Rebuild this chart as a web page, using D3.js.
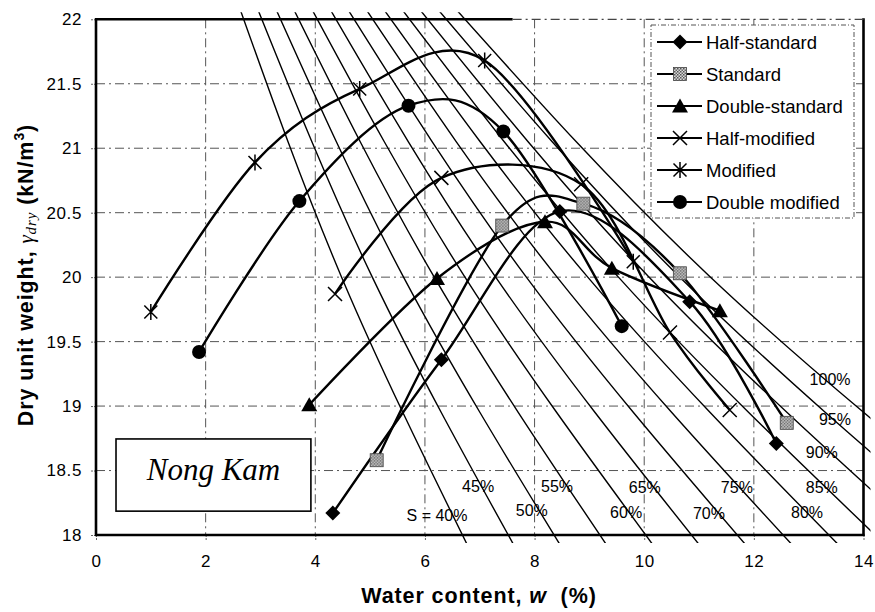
<!DOCTYPE html>
<html>
<head>
<meta charset="utf-8">
<script src="https://cdn.jsdelivr.net/npm/d3@7"></script>
<style>
  body { margin: 0; background: #fff; }
  svg { display: block; font-family: "Liberation Sans", Arial, sans-serif; }
</style>
</head>
<body>
<svg id="chart" width="875" height="612"></svg>
<script>
// ---- Compaction curves: water content w (%) and dry unit weight (kN/m3) ----
const halfStandardW    = [4.32, 6.30, 8.46, 10.83, 12.41];
const halfStandardG    = [18.17, 19.36, 20.51, 19.81, 18.71];
const standardW        = [5.12, 7.41, 8.89, 10.65, 12.60];
const standardG        = [18.58, 20.40, 20.57, 20.03, 18.87];
const doubleStandardW  = [3.89, 6.22, 8.19, 9.41, 11.38];
const doubleStandardG  = [19.01, 19.99, 20.43, 20.07, 19.74];
const halfModifiedW    = [4.36, 6.30, 8.85, 10.47, 11.56];
const halfModifiedG    = [19.87, 20.77, 20.72, 19.57, 18.97];
const modifiedW        = [1.00, 2.90, 4.81, 7.09, 9.80];
const modifiedG        = [19.73, 20.89, 21.46, 21.68, 20.12];
const doubleModifiedW  = [1.88, 3.71, 5.70, 7.43, 9.59];
const doubleModifiedG  = [19.42, 20.59, 21.33, 21.13, 19.62];

const seriesNames   = ["Half-standard", "Standard", "Double-standard", "Half-modified", "Modified", "Double modified"];
const seriesMarkers = ["diamond", "square", "triangle", "cross", "asterisk", "circle"];

// ---- Degree-of-saturation lines: water content read at three unit weights ----
const satDegrees = [40, 45, 50, 55, 60, 65, 70, 75, 80, 85, 90, 95, 100];
const satGamma   = [22.1, 20, 17.9];
const satW = [
  [2.61, 4.48, 6.80],
  [2.93, 5.04, 7.65],
  [3.26, 5.61, 8.50],
  [3.58, 6.17, 9.35],
  [3.91, 6.73, 10.20],
  [4.24, 7.29, 11.05],
  [4.56, 7.85, 11.90],
  [4.89, 8.41, 12.75],
  [5.21, 8.97, 13.60],
  [5.54, 9.53, 14.46],
  [5.86, 10.09, 15.31],
  [6.19, 10.65, 16.16],
  [6.52, 11.21, 17.01]
];
const satLabels  = ["S = 40%", "45%", "50%", "55%", "60%", "65%", "70%", "75%", "80%", "85%", "90%", "95%", "100%"];
const satLabelW  = [6.22, 6.97, 7.95, 8.41, 9.67, 10.01, 11.18, 11.69, 12.97, 13.24, 13.24, 13.48, 13.39];
const satLabelG  = [18.15, 18.38, 18.19, 18.38, 18.18, 18.37, 18.17, 18.37, 18.18, 18.37, 18.64, 18.90, 19.21];

// ---- Axis ticks ----
const xTicks = [0, 2, 4, 6, 8, 10, 12, 14];
const yTicks = [18, 18.5, 19, 19.5, 20, 20.5, 21, 21.5, 22];

const svg = d3.select("#chart");
const x = d3.scaleLinear().domain([0, 14]).range([96, 863.5]);
const y = d3.scaleLinear().domain([18, 22]).range([535, 19.3]);

const defs = svg.append("defs");
const pat = defs.append("pattern").attr("id", "speckle")
  .attr("width", 3).attr("height", 3).attr("patternUnits", "userSpaceOnUse");
pat.append("rect").attr("width", 3).attr("height", 3).attr("fill", "#d8d8d8");
pat.append("rect").attr("width", 1.5).attr("height", 1.5).attr("fill", "#555");
pat.append("rect").attr("x", 1.5).attr("y", 1.5).attr("width", 1.5).attr("height", 1.5).attr("fill", "#666");

defs.append("clipPath").attr("id", "satClip").append("rect")
  .attr("x", x(0)).attr("y", y(22) - 7).attr("width", x(14) - x(0) + 7).attr("height", y(18) - y(22) + 15);

// ---- Grid (dash-dot) ----
const grid = svg.append("g").attr("stroke", "#555").attr("stroke-width", 1).attr("stroke-dasharray", "9,4,2,4");
grid.selectAll("line.v").data(xTicks.filter(d => d > 0 && d < 14)).join("line")
  .attr("x1", d => x(d)).attr("x2", d => x(d)).attr("y1", y(22)).attr("y2", y(18));
grid.selectAll("line.h").data(yTicks.filter(d => d > 18 && d < 22)).join("line")
  .attr("x1", x(0)).attr("x2", x(14)).attr("y1", d => y(d)).attr("y2", d => y(d));

// ---- Axes ----
const yAxis = svg.append("g").attr("transform", `translate(${x(0)},0)`)
  .call(d3.axisLeft(y).tickValues(yTicks).tickSize(5).tickPadding(9).tickFormat(d3.format("")));
const xAxis = svg.append("g").attr("transform", `translate(0,${y(18)})`)
  .call(d3.axisBottom(x).tickValues(xTicks).tickSize(5).tickPadding(15).tickFormat(d3.format("")));
[yAxis, xAxis].forEach(a => {
  a.select(".domain").remove();
  a.selectAll(".tick line").attr("stroke", "#666").attr("stroke-dasharray", "2,1");
  a.selectAll(".tick text").attr("font-size", 17).attr("letter-spacing", "0.6px")
    .attr("font-family", "Liberation Sans, Arial, sans-serif").attr("fill", "#000");
});

// ---- Saturation lines ----
const satLine = d3.line().x(d => x(d[0])).y(d => y(d[1])).curve(d3.curveNatural);
svg.append("g").attr("clip-path", "url(#satClip)")
  .selectAll("path").data(satW).join("path")
  .attr("d", ws => satLine(ws.map((w, i) => [w, satGamma[i]])))
  .attr("fill", "none").attr("stroke", "#000").attr("stroke-width", 1.4);

svg.append("g").selectAll("text").data(satLabels).join("text")
  .attr("x", (d, i) => x(satLabelW[i])).attr("y", (d, i) => y(satLabelG[i]))
  .attr("dy", "0.36em").attr("text-anchor", "middle").attr("font-size", 16)
  .text(d => d);

// ---- Frame ----
const frame = svg.append("g").attr("stroke", "#000").attr("stroke-width", 2.6).attr("fill", "none");
frame.append("line").attr("x1", x(0)).attr("x2", x(0)).attr("y1", y(22) - 1).attr("y2", y(18) + 1);
frame.append("line").attr("x1", x(0) - 1).attr("x2", x(14) + 1).attr("y1", y(18)).attr("y2", y(18));
frame.append("line").attr("x1", x(14)).attr("x2", x(14)).attr("y1", y(22) - 1).attr("y2", y(18) + 1);
frame.append("line").attr("x1", x(0) - 1).attr("x2", x(7.6)).attr("y1", y(22)).attr("y2", y(22));
frame.append("line").attr("x1", x(7.6)).attr("x2", x(14)).attr("y1", y(22)).attr("y2", y(22))
  .attr("stroke-width", 1.2).attr("stroke", "#444").attr("stroke-dasharray", "9,4,2,4");

// ---- Markers ----
function drawMarker(g, type, cx, cy) {
  const s = g.append("g").attr("transform", `translate(${cx},${cy})`);
  if (type === "diamond") {
    s.append("path").attr("d", "M0,-7.5L7.5,0L0,7.5L-7.5,0Z").attr("fill", "#000");
  } else if (type === "square") {
    s.append("rect").attr("x", -6.5).attr("y", -6.5).attr("width", 13).attr("height", 13)
      .attr("fill", "url(#speckle)").attr("stroke", "#444").attr("stroke-width", 0.8);
  } else if (type === "triangle") {
    s.append("path").attr("d", "M0,-7.5L8,6.5L-8,6.5Z").attr("fill", "#000");
  } else if (type === "cross") {
    s.append("path").attr("d", "M-7,-7L7,7M-7,7L7,-7").attr("stroke", "#000").attr("stroke-width", 1.5);
  } else if (type === "asterisk") {
    s.append("path").attr("d", "M-6.5,-6.5L6.5,6.5M-6.5,6.5L6.5,-6.5M0,-8L0,8")
      .attr("stroke", "#000").attr("stroke-width", 1.5);
  } else if (type === "circle") {
    s.append("circle").attr("r", 7).attr("fill", "#000");
  }
}

// ---- Compaction curves ----
const seriesW = [halfStandardW, standardW, doubleStandardW, halfModifiedW, modifiedW, doubleModifiedW];
const seriesG = [halfStandardG, standardG, doubleStandardG, halfModifiedG, modifiedG, doubleModifiedG];
const curve = d3.line().x(d => x(d[0])).y(d => y(d[1])).curve(d3.curveCatmullRom.alpha(0));
const curves = svg.append("g");
seriesW.forEach((ws, k) => {
  const pts = ws.map((w, i) => [w, seriesG[k][i]]);
  curves.append("path").attr("d", curve(pts)).attr("fill", "none")
    .attr("stroke", "#000").attr("stroke-width", 2.4);
});
seriesW.forEach((ws, k) => {
  ws.forEach((w, i) => drawMarker(curves, seriesMarkers[k], x(w), y(seriesG[k][i])));
});

// ---- Legend ----
const lg = svg.append("g").attr("transform", "translate(651,25)");
lg.append("rect").attr("width", 203).attr("height", 193).attr("fill", "#fff")
  .attr("stroke", "#555").attr("stroke-width", 1).attr("stroke-dasharray", "5,2,1,2");
seriesNames.forEach((name, i) => {
  const cy = 17 + i * 32;
  lg.append("line").attr("x1", 6).attr("x2", 51).attr("y1", cy).attr("y2", cy)
    .attr("stroke", "#000").attr("stroke-width", 2);
  drawMarker(lg, seriesMarkers[i], 29, cy);
  lg.append("text").attr("x", 55).attr("y", cy).attr("dy", "0.36em")
    .attr("font-size", 18.5).text(name);
});

// ---- Site label box ----
const nk = svg.append("g");
nk.append("rect").attr("x", x(0.365)).attr("y", y(18.745))
  .attr("width", x(3.92) - x(0.365)).attr("height", y(18.185) - y(18.745))
  .attr("fill", "#fff").attr("stroke", "#000").attr("stroke-width", 1.6);
nk.append("text").attr("x", (x(0.365) + x(3.92)) / 2).attr("y", 480)
  .attr("text-anchor", "middle").attr("font-size", 31)
  .style("font-family", "'Liberation Serif', 'Times New Roman', serif").style("font-style", "italic")
  .text("Nong Kam");

// ---- Axis titles ----
const xt = svg.append("text").attr("x", 479).attr("y", 603).attr("text-anchor", "middle")
  .attr("font-size", 21.5).attr("font-weight", "bold").attr("letter-spacing", "0.9px");
xt.append("tspan").text("Water content, ");
xt.append("tspan").attr("font-style", "italic").text("w");
xt.append("tspan").text("\u00a0 (%)");

const yt = svg.append("text").attr("transform", "translate(33,275) rotate(-90)")
  .attr("text-anchor", "middle").attr("font-size", 21.5).attr("font-weight", "bold").attr("letter-spacing", "0.9px");
yt.append("tspan").text("Dry unit weight, ");
yt.append("tspan").attr("font-style", "italic").attr("font-weight", "normal").attr("font-family", "'Liberation Serif', serif").attr("font-size", 21).text("\u03b3");
yt.append("tspan").attr("font-style", "italic").attr("font-weight", "normal").attr("font-family", "'Liberation Serif', serif").attr("font-size", 15).attr("dy", 3).text("dry");
yt.append("tspan").attr("dy", -3).text(" (kN/m");
yt.append("tspan").attr("font-size", 14).attr("dy", -9).text("3");
yt.append("tspan").attr("dy", 9).text(")");
</script>
</body>
</html>
